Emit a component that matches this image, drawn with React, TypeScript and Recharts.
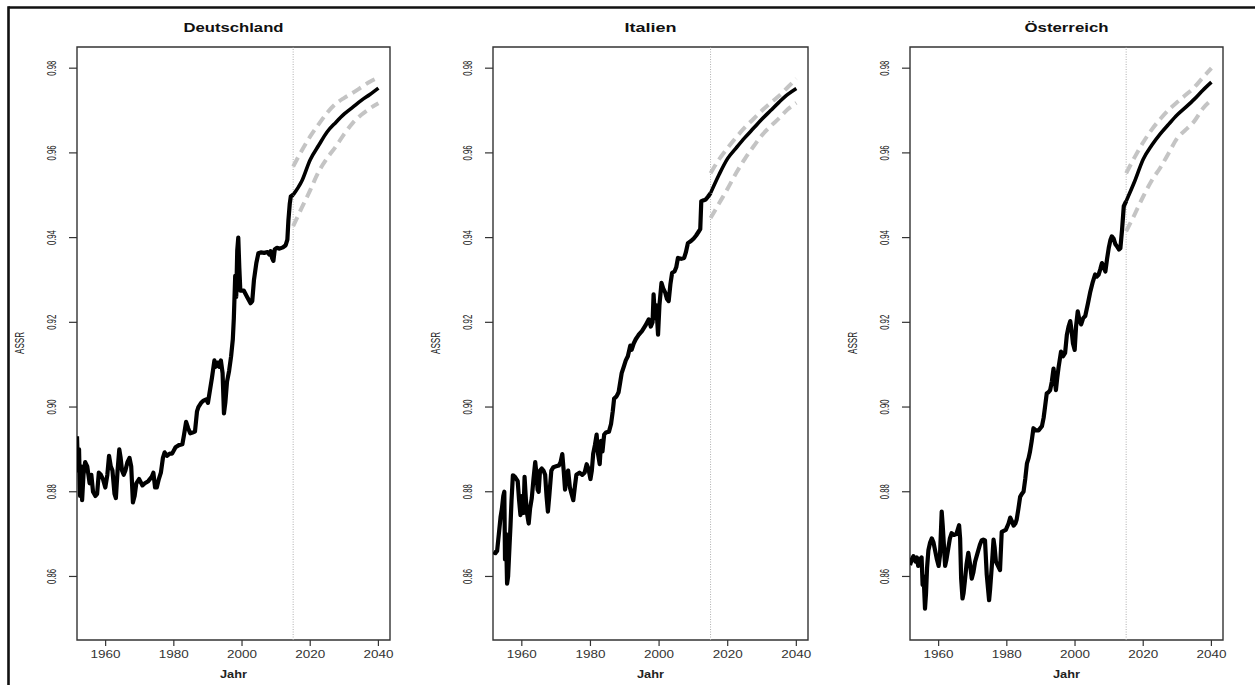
import React from 'react';
import { LineChart, Line, XAxis, YAxis, ReferenceLine, ReferenceArea } from 'recharts';

// ---------- Data ----------
const countries = ['Deutschland', 'Italien', 'Österreich'];
const xTicks = [1960, 1980, 2000, 2020, 2040];
const yTicks = [0.86, 0.88, 0.9, 0.92, 0.94, 0.96, 0.98];
const xDomain = [1951.6, 2043.4];
const yDomain = [0.845, 0.985];
const forecastStart = 2015;

const deYears = [1951.6, 1951.9, 1952.2, 1952.5, 1952.8, 1953.1, 1953.5, 1954.0, 1954.6, 1955.3, 1955.8, 1956.3, 1957.0, 1957.5, 1958.0, 1958.6, 1959.2, 1959.9, 1960.5, 1961.0, 1961.5, 1962.0, 1962.6, 1963.0, 1963.5, 1964.0, 1964.4, 1964.8, 1965.3, 1965.8, 1966.4, 1967.0, 1967.5, 1968.0, 1968.5, 1969.0, 1969.8, 1970.8, 1971.5, 1972.5, 1973.5, 1974.0, 1974.5, 1975.0, 1975.6, 1976.2, 1976.8, 1977.3, 1978.0, 1978.8, 1979.5, 1980.5, 1981.5, 1982.5, 1983.0, 1983.6, 1984.2, 1984.8, 1985.5, 1986.2, 1986.8, 1987.2, 1988.0, 1988.7, 1989.5, 1990.0, 1990.6, 1991.2, 1991.9, 1992.3, 1992.8, 1993.3, 1993.8, 1994.3, 1994.7, 1995.1, 1995.6, 1996.2, 1996.8, 1997.3, 1997.6, 1998.0, 1998.3, 1998.6, 1998.9, 1999.2, 1999.5, 2000.5, 2001.5, 2002.5, 2003.0, 2003.5, 2004.2, 2004.8, 2005.5, 2006.5, 2007.5, 2008.0, 2008.4, 2008.8, 2009.2, 2009.6, 2010.2, 2011.0, 2012.0, 2012.8, 2013.3, 2013.6, 2014.0, 2014.3, 2015.0];
const deValues = [0.8931, 0.885, 0.89, 0.879, 0.886, 0.878, 0.884, 0.887, 0.886, 0.882, 0.884, 0.88, 0.879, 0.8795, 0.8845, 0.884, 0.883, 0.881, 0.884, 0.8885, 0.886, 0.885, 0.8795, 0.8785, 0.885, 0.89, 0.888, 0.885, 0.884, 0.885, 0.887, 0.888, 0.886, 0.8775, 0.879, 0.882, 0.883, 0.8815, 0.882, 0.8825, 0.8835, 0.8845, 0.881, 0.881, 0.883, 0.8845, 0.888, 0.8893, 0.8885, 0.889, 0.889, 0.8905, 0.891, 0.8912, 0.8935, 0.8965, 0.895, 0.8938, 0.894, 0.8942, 0.899, 0.9, 0.901, 0.9015, 0.9018, 0.901, 0.904, 0.907, 0.911, 0.9095, 0.9105, 0.9095, 0.911, 0.908, 0.8985, 0.901, 0.906, 0.9085, 0.912, 0.916, 0.921, 0.931, 0.926, 0.937, 0.94, 0.933, 0.9275, 0.9275, 0.926, 0.9245, 0.925, 0.93, 0.934, 0.9363, 0.9365, 0.9364, 0.9366, 0.936, 0.9368, 0.9352, 0.9345, 0.9372, 0.9376, 0.9374, 0.9377, 0.9382, 0.9395, 0.944, 0.948, 0.9497, 0.9501];

const itYears = [1951.7, 1952.3, 1952.8, 1953.3, 1953.8, 1954.2, 1954.6, 1954.9, 1955.1, 1955.4, 1955.7, 1956.0, 1956.4, 1956.7, 1957.0, 1957.4, 1958.0, 1958.8, 1959.2, 1959.6, 1960.0, 1960.5, 1960.8, 1961.2, 1961.5, 1962.0, 1962.4, 1962.9, 1963.4, 1963.9, 1964.3, 1964.6, 1964.9, 1965.3, 1965.8, 1966.3, 1966.8, 1967.2, 1967.6, 1968.0, 1968.6, 1969.2, 1970.0, 1970.8, 1971.3, 1971.8, 1972.2, 1972.6, 1973.0, 1973.5, 1974.0, 1974.5, 1975.0, 1975.5, 1975.9, 1976.8, 1977.6, 1978.3, 1978.9, 1979.4, 1980.0, 1980.4, 1980.8, 1981.3, 1981.8, 1982.2, 1982.7, 1983.1, 1983.5, 1984.0, 1984.5, 1985.4, 1986.0, 1986.5, 1986.9, 1987.6, 1988.2, 1988.7, 1989.1, 1989.7, 1990.3, 1990.9, 1991.6, 1992.0, 1992.6, 1993.2, 1994.0, 1995.0, 1996.0, 1997.0, 1997.6, 1998.1, 1998.4, 1998.8, 1999.2, 1999.7, 2000.1, 2000.7, 2001.2, 2001.8, 2002.3, 2002.8, 2003.3, 2003.8, 2004.5, 2005.0, 2005.5, 2006.5, 2007.3, 2007.8, 2008.4, 2009.3, 2010.1, 2010.8, 2011.6, 2012.0, 2012.3, 2013.0, 2013.6, 2014.3, 2015.0];
const itValues = [0.8658, 0.8655, 0.866, 0.87, 0.874, 0.876, 0.879, 0.88, 0.864, 0.87, 0.8583, 0.86, 0.867, 0.872, 0.878, 0.8839, 0.8835, 0.8825, 0.878, 0.8745, 0.879, 0.875, 0.8835, 0.878, 0.875, 0.8725, 0.876, 0.8785, 0.883, 0.887, 0.884, 0.8805, 0.88, 0.885, 0.8855, 0.885, 0.884, 0.879, 0.8753, 0.879, 0.885, 0.8858, 0.886, 0.8862, 0.887, 0.8889, 0.885, 0.8805, 0.884, 0.885, 0.881, 0.8795, 0.878, 0.8815, 0.884, 0.8845, 0.884, 0.8845, 0.8865, 0.8855, 0.883, 0.885, 0.889, 0.891, 0.8935, 0.889, 0.8865, 0.892, 0.8895, 0.8935, 0.894, 0.8942, 0.896, 0.899, 0.902, 0.9025, 0.9035, 0.906, 0.908, 0.9095, 0.911, 0.912, 0.9145, 0.9135, 0.915, 0.916, 0.917, 0.9179, 0.9192, 0.9207, 0.919, 0.92, 0.9266, 0.921, 0.924, 0.9171, 0.924, 0.9293, 0.928, 0.927, 0.9255, 0.925, 0.929, 0.9317, 0.932, 0.933, 0.9352, 0.935, 0.9352, 0.9365, 0.9387, 0.9392, 0.9398, 0.9405, 0.9415, 0.942, 0.9486, 0.9488, 0.949, 0.9497, 0.9505];

const atYears = [1951.6, 1952.1, 1952.6, 1953.2, 1953.6, 1954.0, 1954.5, 1955.0, 1955.3, 1955.6, 1956.0, 1956.3, 1956.6, 1957.0, 1957.5, 1958.0, 1958.5, 1959.0, 1959.5, 1960.0, 1960.4, 1960.9, 1961.2, 1961.5, 1961.9, 1962.3, 1962.8, 1963.3, 1963.8, 1964.5, 1965.2, 1966.0, 1966.3, 1966.6, 1967.0, 1967.3, 1967.7, 1968.2, 1968.7, 1969.2, 1969.7, 1970.2, 1970.7, 1971.4, 1972.1, 1972.6, 1973.1, 1973.6, 1974.1, 1974.8, 1975.1, 1975.6, 1976.1, 1976.4, 1976.8, 1977.4, 1978.0, 1978.5, 1979.7, 1980.5, 1981.0, 1981.5, 1982.0, 1982.5, 1982.9, 1983.4, 1983.9, 1984.4, 1984.9, 1985.4, 1985.9, 1986.4, 1986.8, 1987.3, 1987.8, 1988.5, 1989.3, 1990.3, 1990.8, 1991.2, 1991.7, 1992.2, 1992.7, 1993.2, 1993.7, 1994.1, 1994.4, 1994.8, 1995.2, 1995.9, 1996.5, 1997.1, 1997.6, 1998.1, 1998.6, 1999.0, 1999.4, 1999.9, 2000.3, 2000.8, 2001.3, 2001.8, 2002.4, 2003.0, 2003.8, 2004.5, 2005.2, 2005.9, 2006.4, 2006.9, 2007.4, 2007.9, 2008.4, 2008.9, 2009.4, 2009.9, 2010.4, 2010.8, 2011.3, 2011.8, 2012.4, 2012.9, 2013.3, 2013.8, 2014.3, 2015.0];
const atValues = [0.8627, 0.864, 0.8648, 0.8635, 0.8645, 0.8625, 0.864, 0.8645, 0.858, 0.86, 0.8524, 0.856, 0.862, 0.8662, 0.868, 0.869, 0.868, 0.866, 0.864, 0.8625, 0.865, 0.8753, 0.872, 0.868, 0.8625, 0.864, 0.8665, 0.869, 0.8702, 0.8698, 0.87, 0.8721, 0.869, 0.8595, 0.8548, 0.856, 0.859, 0.863, 0.8656, 0.863, 0.8595, 0.861, 0.8635, 0.8655, 0.8675, 0.8685, 0.8687, 0.8685, 0.8605, 0.8544, 0.857, 0.8625, 0.8687, 0.867, 0.8635, 0.8625, 0.8615, 0.8705, 0.871, 0.8725, 0.8739, 0.873, 0.872, 0.8725, 0.8735, 0.876, 0.8788, 0.8795, 0.88, 0.883, 0.8867, 0.888, 0.8895, 0.892, 0.895, 0.8945, 0.8945, 0.8955, 0.8975, 0.9, 0.9032, 0.9035, 0.904, 0.906, 0.9091, 0.906, 0.904, 0.907, 0.9095, 0.9131, 0.912, 0.9128, 0.917, 0.919, 0.9203, 0.918, 0.915, 0.9135, 0.919, 0.9226, 0.9205, 0.9195, 0.921, 0.9215, 0.9245, 0.9273, 0.9295, 0.9313, 0.9308, 0.9312, 0.9325, 0.934, 0.933, 0.932, 0.935, 0.9376, 0.9395, 0.9403, 0.9398, 0.9385, 0.9378, 0.9372, 0.9375, 0.9419, 0.9474, 0.9486];

const forecastYears = [2015, 2017.5, 2020, 2022.5, 2025, 2027.5, 2030, 2032.5, 2035, 2037.5, 2040];
const deMean = [0.9501, 0.9533, 0.9584, 0.9618, 0.965, 0.9672, 0.9692, 0.9708, 0.9724, 0.9738, 0.9753];
const deUpper = [0.9568, 0.9605, 0.9639, 0.9668, 0.9695, 0.9716, 0.973, 0.9742, 0.9755, 0.9768, 0.9778];
const deLower = [0.9427, 0.947, 0.9512, 0.9556, 0.9588, 0.9615, 0.9645, 0.9671, 0.969, 0.9705, 0.9717];
const itMean = [0.9505, 0.9549, 0.9587, 0.9612, 0.9636, 0.9658, 0.968, 0.97, 0.972, 0.9738, 0.9752];
const itUpper = [0.9552, 0.9585, 0.9612, 0.9637, 0.966, 0.968, 0.97, 0.9718, 0.9735, 0.9755, 0.9775];
const itLower = [0.9446, 0.9481, 0.9516, 0.9553, 0.9586, 0.9615, 0.9642, 0.9663, 0.9682, 0.9703, 0.9718];
const atMean = [0.9486, 0.9533, 0.9585, 0.9618, 0.9645, 0.9668, 0.969, 0.9708, 0.9727, 0.9748, 0.9767];
const atUpper = [0.9552, 0.959, 0.9625, 0.9655, 0.968, 0.9702, 0.972, 0.9737, 0.9755, 0.9778, 0.98];
const atLower = [0.9415, 0.9455, 0.9497, 0.9535, 0.9565, 0.96, 0.9635, 0.9655, 0.9675, 0.9705, 0.9725];

const historyYears = [deYears, itYears, atYears];
const historyValues = [deValues, itValues, atValues];
const meanSeries = [deMean, itMean, atMean];
const upperSeries = [deUpper, itUpper, atUpper];
const lowerSeries = [deLower, itLower, atLower];

// ---------- Layout ----------
const panels = [
  { left: 0, marginRight: 30 },
  { left: 416, marginRight: 28 },
  { left: 833, marginRight: 30 },
];
const CHART_W = 420;
const CHART_H = 685;
const Y_AXIS_W = 77;
const X_AXIS_H = 45;
const TOP = 47;
const FONT = "'Liberation Sans', Arial, Helvetica, sans-serif";

const toPoints = (xs: number[], ys: number[]) => xs.map((x, i) => ({ x, y: ys[i] }));

const YTick = (props: any) => {
  const { x, y, payload } = props;
  const bx = x - 11;
  return (
    <text
      x={bx}
      y={y}
      transform={`rotate(-90, ${bx}, ${y})`}
      textAnchor="middle"
      fontFamily={FONT}
      fontSize={12}
      fill="#222"
      textLength={15}
      lengthAdjust="spacingAndGlyphs"
    >
      {Number(payload.value).toFixed(2)}
    </text>
  );
};

const XTick = (props: any) => {
  const { x, y, payload } = props;
  return (
    <text
      x={x}
      y={y + 10}
      textAnchor="middle"
      fontFamily={FONT}
      fontSize={10.5}
      fill="#333"
      textLength={30}
      lengthAdjust="spacingAndGlyphs"
    >
      {String(payload.value)}
    </text>
  );
};

function Panel({ idx }: { idx: number }) {
  const p = panels[idx];
  const hist = toPoints(historyYears[idx], historyValues[idx]);
  const mean = toPoints(forecastYears, meanSeries[idx]);
  const upper = toPoints(forecastYears, upperSeries[idx]);
  const lower = toPoints(forecastYears, lowerSeries[idx]);
  return (
    <div style={{ position: 'absolute', left: p.left, top: 0, width: CHART_W, height: CHART_H }}>
      <LineChart
        width={CHART_W}
        height={CHART_H}
        margin={{ top: TOP, right: p.marginRight, bottom: 0, left: 0 }}
      >
        <XAxis
          dataKey="x"
          type="number"
          domain={xDomain}
          allowDataOverflow
          ticks={xTicks}
          height={X_AXIS_H}
          axisLine={false}
          tickLine={{ stroke: '#333', strokeWidth: 1.2 }}
          tickSize={6}
          tickMargin={2}
          tick={<XTick />}
          interval={0}
        />
        <YAxis
          dataKey="y"
          type="number"
          domain={yDomain}
          allowDataOverflow
          ticks={yTicks}
          width={Y_AXIS_W}
          axisLine={false}
          tickLine={{ stroke: '#333', strokeWidth: 1.2 }}
          tickSize={8}
          tickMargin={2}
          tick={<YTick />}
          interval={0}
        />
        <ReferenceLine x={forecastStart} stroke="#b0b0b0" strokeDasharray="1 1.5" strokeWidth={1} />
        <Line data={upper} dataKey="y" type="monotone" dot={false} stroke="#c4c4c4" strokeWidth={4} strokeDasharray="10 6" isAnimationActive={false} />
        <Line data={lower} dataKey="y" type="monotone" dot={false} stroke="#c4c4c4" strokeWidth={4} strokeDasharray="10 6" isAnimationActive={false} />
        <Line data={hist} dataKey="y" type="linear" dot={false} stroke="#000" strokeWidth={4.2} strokeLinejoin="round" isAnimationActive={false} />
        <Line data={mean} dataKey="y" type="monotone" dot={false} stroke="#000" strokeWidth={3.6} isAnimationActive={false} />
        <ReferenceArea x1={xDomain[0]} x2={xDomain[1]} y1={yDomain[0]} y2={yDomain[1]} fill="none" stroke="#333" strokeWidth={1.4} />
      </LineChart>
    </div>
  );
}

export default function App() {
  const centers = panels.map((p) => p.left + Y_AXIS_W + (CHART_W - Y_AXIS_W - p.marginRight) / 2);
  const titleLen = [100, 52, 84];
  return (
    <div style={{ position: 'absolute', left: 0, top: 0, width: 1255, height: 685, background: '#fff', overflow: 'hidden' }}>
      {panels.map((_, i) => (
        <Panel key={i} idx={i} />
      ))}
      <svg width={1255} height={685} style={{ position: 'absolute', left: 0, top: 0, pointerEvents: 'none' }}>
        <line x1={8.5} y1={7.5} x2={1255} y2={7.5} stroke="#111" strokeWidth={2.6} />
        <line x1={8.5} y1={6.2} x2={8.5} y2={685} stroke="#111" strokeWidth={2.6} />
        {countries.map((c, i) => (
          <text
            key={c}
            x={centers[i]}
            y={32}
            textAnchor="middle"
            fontFamily={FONT}
            fontWeight="bold"
            fontSize={12}
            fill="#111"
            textLength={titleLen[i]}
            lengthAdjust="spacingAndGlyphs"
          >
            {c}
          </text>
        ))}
        {panels.map((p, i) => (
          <text
            key={'j' + i}
            x={centers[i]}
            y={678}
            textAnchor="middle"
            fontFamily={FONT}
            fontWeight="bold"
            fontSize={10}
            fill="#222"
            textLength={27}
            lengthAdjust="spacingAndGlyphs"
          >
            Jahr
          </text>
        ))}
        {panels.map((p, i) => (
          <text
            key={'a' + i}
            x={p.left + 24}
            y={343}
            transform={`rotate(-90, ${p.left + 24}, 343)`}
            textAnchor="middle"
            fontFamily={FONT}
            fontSize={12}
            fill="#222"
            textLength={22}
            lengthAdjust="spacingAndGlyphs"
          >
            ASSR
          </text>
        ))}
      </svg>
    </div>
  );
}
